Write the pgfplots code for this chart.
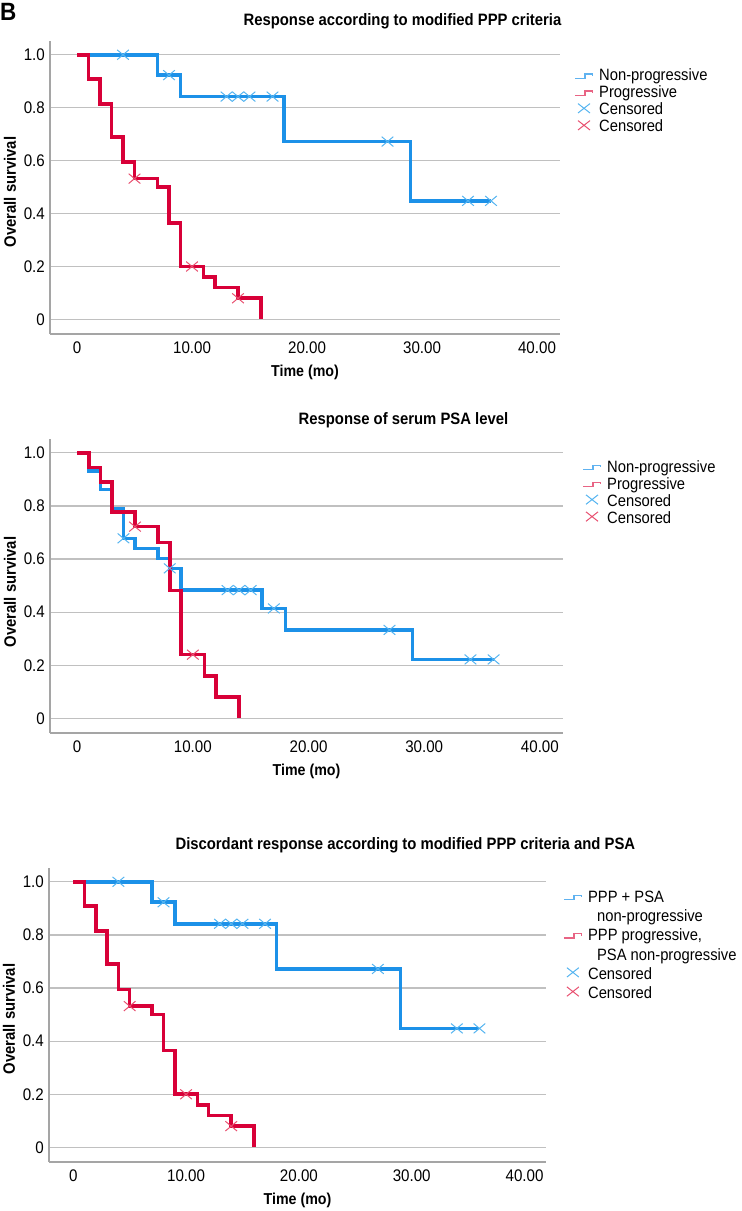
\documentclass[border=0pt]{standalone}
\usepackage{fontspec}
\setmainfont{Liberation Sans}[FakeStretch=0.9]
\usepackage{pgfplots}
\pgfplotsset{compat=1.18}
\definecolor{kmblue}{RGB}{28,145,232}
\definecolor{kmred}{RGB}{216,0,56}
\definecolor{cblue}{RGB}{85,180,240}
\definecolor{cred}{RGB}{232,80,112}
\definecolor{lgblue}{RGB}{95,178,240}
\definecolor{lgred}{RGB}{232,100,132}
\definecolor{gridgray}{RGB}{192,192,192}
\definecolor{axgray}{RGB}{165,165,165}
\pgfplotsset{
  kmaxis/.style={
    scale only axis,
    axis x line*=bottom, axis y line*=left,
    axis line style={axgray, line width=1.2pt, -},
    every outer x axis line/.append style={-},
    every outer y axis line/.append style={-},
    ymajorgrids, grid style={gridgray, line width=1.3pt},
    major tick length=0pt,
    xmin=-2.35, xmax=42, ymin=-0.055, ymax=1.052,
    xtick={0,10,20,30,40}, xticklabels={0,10.00,20.00,30.00,40.00},
    ytick={0,0.2,0.4,0.6,0.8,1}, yticklabels={0,0.2,0.4,0.6,0.8,1.0},
    tick label style={font=\fontsize{16.8}{19}\selectfont, inner sep=0pt},
    xticklabel style={anchor=north, yshift=-8pt},
    yticklabel style={anchor=east, xshift=-5pt},
    xlabel={Time (mo)}, ylabel={Overall survival},
    xlabel style={font=\bfseries\fontsize{15.8}{19}\selectfont, at={(axis description cs:0.5,0)}, anchor=north, yshift=-31pt, inner sep=0pt},
    ylabel style={font=\bfseries\fontsize{16.5}{19}\selectfont, anchor=center, inner sep=0pt},
    title style={font=\bfseries\fontsize{16.5}{19}\selectfont, anchor=base, inner sep=0pt},
    legend style={draw=none, fill=none, anchor=north west, inner sep=0pt, outer sep=0pt,
      column sep=6.5pt, font=\fontsize{16.4}{19}\selectfont,
      nodes={inner sep=0pt}},
    legend cell align=left,
  },
  kmline/.style={const plot, line width=3.6pt, mark=none},
  cmark/.style={only marks, mark=x, mark size=7.5pt, line width=1pt, mark options={xscale=1.1, yscale=0.92}},
  stepblueleg/.style={legend image code/.code={\path[draw=none] (0pt,-5pt) rectangle (17.7pt,5pt);
      \begin{pgfinterruptboundingbox}
      \draw[lgblue, line width=1.25pt] (0pt,-0.8pt) -- (10pt,-0.8pt) -- (10pt,3.5pt) -- (17.7pt,3.5pt) -- (17.7pt,1.5pt);
      \end{pgfinterruptboundingbox}}},
  stepredleg/.style={legend image code/.code={\path[draw=none] (0pt,-5pt) rectangle (17.7pt,5pt);
      \begin{pgfinterruptboundingbox}
      \draw[lgred, line width=1.25pt] (0pt,-0.8pt) -- (10pt,-0.8pt) -- (10pt,3.5pt) -- (17.7pt,3.5pt) -- (17.7pt,1.5pt);
      \end{pgfinterruptboundingbox}}},
  cblueleg/.style={legend image code/.code={\path[draw=none] (0pt,-5pt) rectangle (17.7pt,5pt);
      \begin{pgfinterruptboundingbox}
      \draw[cblue, line width=1pt] (3pt,-1.5pt) -- (15pt,7.9pt) (3pt,7.9pt) -- (15pt,-1.5pt);
      \end{pgfinterruptboundingbox}}},
  credleg/.style={legend image code/.code={\path[draw=none] (0pt,-5pt) rectangle (17.7pt,5pt);
      \begin{pgfinterruptboundingbox}
      \draw[cred, line width=1pt] (3pt,-1.5pt) -- (15pt,7.9pt) (3pt,7.9pt) -- (15pt,-1.5pt);
      \end{pgfinterruptboundingbox}}},
  emptyleg/.style={legend image code/.code={\path[draw=none] (0pt,-5pt) rectangle (17.7pt,5pt);}},
}
\begin{document}
\begin{tikzpicture}
\path[use as bounding box] (0pt,0pt) rectangle (742pt,1211pt);
\node[anchor=north west, inner sep=0pt, font=\bfseries\fontsize{25}{28}\selectfont] at (0pt,1208pt) {B};

% Panel 1
\begin{axis}[kmaxis, at={(50pt,877pt)}, anchor=south west, width=510pt, height=293pt,
  title={Response according to modified PPP criteria},
  title style={at={(axis description cs:0.691,1.032)}},
  ylabel style={at={(axis description cs:-0.0784,0.4846)}},
  legend style={at={(axis description cs:1.0294,0.9044)}, nodes={text height=12pt, text depth=5pt}}]
\addplot[kmline, kmblue, stepblueleg] coordinates {(0,1)(7,0.923)(9,0.842)(18,0.672)(29,0.448)(36,0.448)};
\addlegendentry{Non-progressive}
\addplot[kmline, kmred, stepredleg] coordinates {(0,1)(1,0.909)(2,0.815)(3,0.69)(4,0.594)(5,0.532)(7,0.5)(8,0.365)(9,0.2)(11,0.16)(12,0.12)(14,0.08)(16,0)};
\addlegendentry{Progressive}
\addplot[cmark, cblue, cblueleg] coordinates {(4,1)(8,0.923)(13,0.842)(14,0.842)(15,0.842)(17,0.842)(27,0.672)(34,0.448)(36,0.448)};
\addlegendentry{Censored}
\addplot[cmark, cred, credleg] coordinates {(5,0.532)(10,0.2)(14,0.08)};
\addlegendentry{Censored}
\end{axis}

% Panel 2
\begin{axis}[kmaxis, at={(50pt,478pt)}, anchor=south west, width=513pt, height=294pt,
  title={Response of serum PSA level},
  title style={at={(axis description cs:0.689,1.028)}},
  ylabel style={at={(axis description cs:-0.078,0.4796)}},
  legend style={at={(axis description cs:1.039,0.9276)}, nodes={text height=12pt, text depth=5pt}}]
\addplot[kmline, kmblue, stepblueleg] coordinates {(0,1)(1,0.931)(2,0.862)(3,0.788)(4,0.678)(5,0.639)(7,0.602)(8,0.565)(9,0.483)(16,0.414)(18,0.333)(29,0.222)(36,0.222)};
\addlegendentry{Non-progressive}
\addplot[kmline, kmred, stepredleg] coordinates {(0,1)(1,0.944)(2,0.889)(3,0.778)(5,0.722)(7,0.662)(8,0.481)(9,0.24)(11,0.16)(12,0.08)(14,0)};
\addlegendentry{Progressive}
\addplot[cmark, cblue, cblueleg] coordinates {(4,0.678)(8,0.565)(13,0.483)(14,0.483)(15,0.483)(17,0.414)(27,0.333)(34,0.222)(36,0.222)};
\addlegendentry{Censored}
\addplot[cmark, cred, credleg] coordinates {(5,0.722)(10,0.24)};
\addlegendentry{Censored}
\end{axis}

% Panel 3
\begin{axis}[kmaxis, at={(49pt,49pt)}, anchor=south west, width=497pt, height=294pt,
  xmin=-2.15, xmax=41.9,
  title={Discordant response according to modified PPP criteria and PSA},
  title style={at={(axis description cs:0.717,1.044)}},
  ylabel style={at={(axis description cs:-0.0805,0.486)}},
  legend style={at={(axis description cs:1.036,0.928)}, nodes={text height=13.35pt, text depth=5.85pt}}]
\addplot[kmline, kmblue, stepblueleg] coordinates {(0,1)(7,0.923)(9,0.842)(18,0.672)(29,0.448)(36,0.448)};
\addlegendentry{PPP + PSA}
\addlegendimage{emptyleg}
\addlegendentry{\hspace*{9pt}non-progressive}
\addplot[kmline, kmred, stepredleg] coordinates {(0,1)(1,0.909)(2,0.815)(3,0.69)(4,0.594)(5,0.532)(7,0.5)(8,0.365)(9,0.2)(11,0.16)(12,0.12)(14,0.08)(16,0)};
\addlegendentry{PPP progressive,}
\addlegendimage{emptyleg}
\addlegendentry{\hspace*{9pt}PSA non-progressive}
\addplot[cmark, cblue, cblueleg] coordinates {(4,1)(8,0.923)(13,0.842)(14,0.842)(15,0.842)(17,0.842)(27,0.672)(34,0.448)(36,0.448)};
\addlegendentry{Censored}
\addplot[cmark, cred, credleg] coordinates {(5,0.532)(10,0.2)(14,0.08)};
\addlegendentry{Censored}
\end{axis}
\end{tikzpicture}
\end{document}
